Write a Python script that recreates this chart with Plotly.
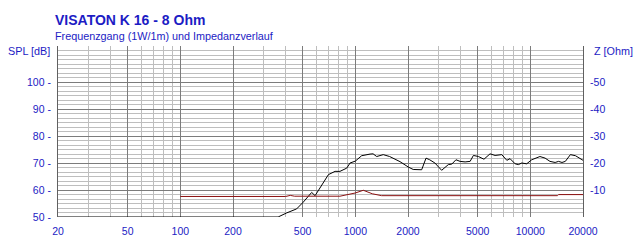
import plotly.graph_objects as go

# ---- data ----
spl_freq = [20, 100, 300, 362, 405, 462, 504, 563, 589, 643, 702, 766, 817, 893, 933,
            1000, 1087, 1214, 1263, 1325, 1444, 1571, 1800, 2009, 2142, 2394, 2535,
            2660, 2850, 3113, 3400, 3560, 3759, 3968, 4240, 4528, 4730, 5053, 5435,
            5888, 6290, 6870, 7340, 7660, 8190, 8550, 8930, 9530, 10190, 11350, 12150,
            12950, 13860, 14500, 15170, 15850, 16950, 18110, 19370, 20000]
spl_db = [50, 50, 50, 50, 51.5, 53, 55.5, 59.1, 57.9, 62.0, 65.7, 66.9, 66.9, 68.1, 70.0,
          70.7, 72.7, 73.3, 73.4, 72.4, 73.1, 72.4, 70.5, 68.5, 67.6, 67.5, 71.8,
          71.2, 70.0, 67.3, 69.4, 69.6, 71.2, 70.6, 70.4, 70.6, 72.8, 72.4, 71.4,
          73.4, 72.8, 73.1, 71.0, 71.6, 69.7, 69.4, 70.0, 69.7, 71.2, 72.4, 71.8,
          70.6, 70.2, 70.6, 70.2, 70.6, 73.1, 72.7, 71.4, 71.0]

imp_freq = [100, 400, 425, 450, 817, 900, 1000, 1111, 1250, 1413, 2000, 5000, 10000, 14300, 14500, 20000]
imp_ohm = [7.6, 7.6, 8.0, 7.7, 7.7, 8.2, 8.9, 9.9, 8.6, 7.9, 7.9, 7.9, 7.9, 7.9, 8.3, 8.3]

x_tickvals = [20, 50, 100, 200, 500, 1000, 2000, 5000, 10000, 20000]
x_ticktext = ["20", "50", "100", "200", "500", "1000", "2000", "5000", "10000", "20000"]
x_minor = [m * d for d in (10, 100, 1000, 10000) for m in range(1, 10) if 20 <= m * d <= 20000]

spl_tickvals = [50, 60, 70, 80, 90, 100]
spl_ticktext = ["50 -", "60 -", "70 -", "80 -", "90 -", "100 -"]
spl_minor = [50 + k * 10 / 6 for k in range(0, 38)]

z_tickvals = [10, 20, 30, 40, 50]
z_ticktext = ["-10", "-20", "-30", "-40", "-50"]

title_text = "VISATON K 16 - 8 Ohm"
subtitle_text = "Frequenzgang (1W/1m) und Impedanzverlauf"

BLUE = "#1C1CC4"
FONT = "Liberation Sans, Arial, sans-serif"
W, H = 640, 250
L, R, T, B = 58, 57, 46, 33
PH = H - T - B
DB_TOP = 50 + PH / 2.7

fig = go.Figure()
fig.add_trace(go.Scatter(x=imp_freq, y=imp_ohm, mode="lines", yaxis="y2",
                         line=dict(color="#8B1010", width=1), hoverinfo="skip"))
fig.add_trace(go.Scatter(x=spl_freq, y=spl_db, mode="lines",
                         line=dict(color="black", width=1), hoverinfo="skip"))

fig.update_layout(
    width=W, height=H, margin=dict(l=L, r=R, t=T, b=B),
    paper_bgcolor="white", plot_bgcolor="white", showlegend=False,
    font=dict(family=FONT, size=10, color=BLUE),
    xaxis=dict(type="log", range=[1.30103, 4.30103], tickmode="array",
               tickvals=x_tickvals, ticktext=x_ticktext, showgrid=True,
               gridcolor="#7C7C7C", gridwidth=1, zeroline=False, showline=False,
               ticks="", ticklabelstandoff=6, tickfont=dict(size=10.5, color=BLUE),
               minor=dict(tickmode="array", tickvals=x_minor, showgrid=True,
                          gridcolor="#BEBEBE", gridwidth=1, ticks="")),
    yaxis=dict(range=[50, DB_TOP], tickmode="array", tickvals=spl_tickvals,
               ticktext=spl_ticktext, showgrid=True, gridcolor="#7C7C7C",
               zeroline=False, showline=True, linecolor="#606060", linewidth=1,
               ticks="", ticklabelstandoff=4, tickfont=dict(size=10.5, color=BLUE),
               minor=dict(tickmode="array", tickvals=spl_minor, showgrid=True,
                          gridcolor="#BEBEBE", gridwidth=1, ticks="")),
    yaxis2=dict(range=[0, DB_TOP - 50], overlaying="y", side="right",
                tickmode="array", tickvals=z_tickvals, ticktext=z_ticktext,
                showgrid=False, zeroline=False, showline=True,
                linecolor="#606060", linewidth=1, ticks="", ticklabelstandoff=4,
                tickfont=dict(size=10.5, color=BLUE)),
)

def px_x(px):
    return (px - L) / (W - L - R)

def px_y(py):
    return (H - B - py) / PH

fig.add_annotation(text="<b>" + title_text + "</b>", x=px_x(53), y=px_y(20),
                   xref="paper", yref="paper", xanchor="left", yanchor="middle",
                   showarrow=False, font=dict(size=14, color=BLUE, family=FONT))
fig.add_annotation(text=subtitle_text, x=px_x(53), y=px_y(36),
                   xref="paper", yref="paper", xanchor="left", yanchor="middle",
                   showarrow=False, font=dict(size=10.8, color=BLUE, family=FONT))
fig.add_annotation(text="SPL [dB]", x=px_x(6), y=px_y(51),
                   xref="paper", yref="paper", xanchor="left", yanchor="middle",
                   showarrow=False, font=dict(size=10.8, color=BLUE, family=FONT))
fig.add_annotation(text="Z [Ohm]", x=px_x(592), y=px_y(51),
                   xref="paper", yref="paper", xanchor="left", yanchor="middle",
                   showarrow=False, font=dict(size=10.8, color=BLUE, family=FONT))

fig.write_html("out.html")
